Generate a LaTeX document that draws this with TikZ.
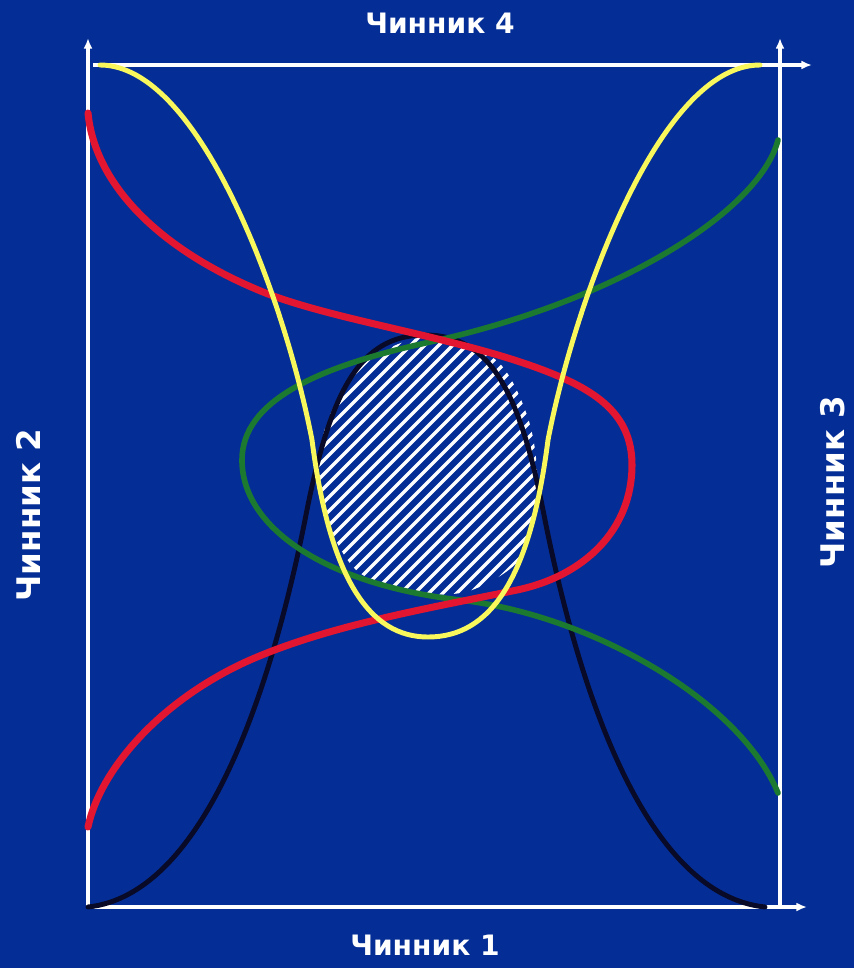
\documentclass[tikz,border=0pt]{standalone}
\usepackage{fontspec}
\usepackage{tikz}
\usetikzlibrary{arrows.meta}
\newfontfamily\labelfont{DejaVu Sans Bold}
\definecolor{fonSinij}{RGB}{4,46,150}
\definecolor{linChervona}{RGB}{226,22,48}
\definecolor{linZelena}{RGB}{28,122,48}
\definecolor{linZhovta}{RGB}{248,248,92}
\definecolor{linChorna}{RGB}{8,10,40}

\begin{document}
\begin{tikzpicture}[x=0.02cm, y=-0.02cm,
    axis/.style={draw=white, line width=1.8pt, -{Latex[length=6pt, width=5pt]}},
    factor/.style={text=white, inner sep=0pt, font=\labelfont\fontsize{16}{19}\selectfont},
    sidefactor/.style={factor, font=\labelfont\fontsize{18.5}{22}\selectfont, rotate=90},
    hatch/.style={draw=white, line width=2pt},
    curve/.style={line width=#1, line cap=round, line join=round}
]
    \useasboundingbox (0,0) rectangle (854,968);
    \fill[fonSinij] (0,0) rectangle (854,968);

    \coordinate (lb) at (88,907);
    \coordinate (lt) at (88,38);
    \coordinate (tl) at (93,65);
    \coordinate (tr) at (812,65);
    \coordinate (rb) at (780,907);
    \coordinate (rt) at (780,38);
    \coordinate (br) at (807,907);

    \begin{scope}
        \clip plot[smooth cycle] coordinates {(426,337) (496,360) (528,418) (537,482) (522,556) (472,590) (420,593) (356,570) (320,500) (326,425) (364,364)};
        \foreach \k in {60,74,...,480}
            \draw[hatch] (\k,640) -- ++(320,-320);
    \end{scope}

    \draw[axis] (lb) -- (lt);
    \draw[axis] (rb) -- (rt);
    \draw[axis] (tl) -- (tr);
    \draw[axis] (lb) -- (br);

    \draw[curve=2.8pt, linChorna] (88,907) .. controls (200,895) and (268,705) .. (305,520)
        .. controls (330,390) and (360,335) .. (425,335)
        .. controls (490,335) and (520,390) .. (545,520)
        .. controls (582,705) and (650,895) .. (765,907);
    \draw[curve=3.2pt, linZelena] (778,140) .. controls (760,210) and (620,300) .. (430,342)
        .. controls (320,366) and (242,400) .. (242,460)
        .. controls (242,530) and (330,585) .. (460,600)
        .. controls (590,615) and (740,700) .. (778,793);
    \draw[curve=4pt, linChervona] (88,113) .. controls (95,185) and (160,250) .. (263,292)
        .. controls (340,323) and (480,340) .. (567,380)
        .. controls (610,400) and (632,425) .. (632,465)
        .. controls (632,530) and (584,576) .. (517,590)
        .. controls (430,608) and (330,625) .. (250,660)
        .. controls (160,700) and (100,770) .. (88,827);
    \draw[curve=2.8pt, linZhovta] (100,65) .. controls (200,65) and (285,300) .. (312,440)
        .. controls (330,580) and (370,637) .. (428,637)
        .. controls (490,637) and (530,580) .. (548,440)
        .. controls (575,300) and (660,65) .. (760,65);

    \node[factor] (f4) at (440,23) {Чинник 4};
    \node[factor] (f1) at (425,945) {Чинник 1};
    \node[sidefactor] (f2) at (28,515) {Чинник 2};
    \node[sidefactor] (f3) at (833,482) {Чинник 3};
\end{tikzpicture}
\end{document}
